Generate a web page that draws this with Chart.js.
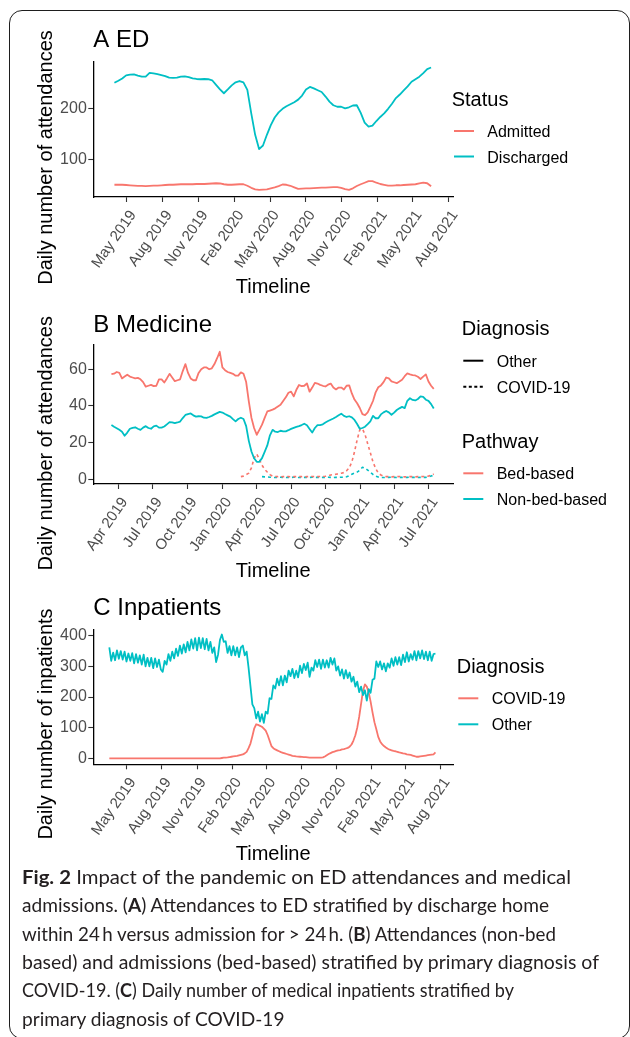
<!DOCTYPE html>
<html>
<head>
<meta charset="utf-8">
<script src="https://cdn.jsdelivr.net/npm/chart.js@4.4.1/dist/chart.umd.min.js"></script>
<style>
  html, body { margin: 0; padding: 0; background: #fff; }
  body { width: 630px; height: 1037px; position: relative; overflow: hidden; }
  .frame { position: absolute; left: 8.5px; top: 9.5px; width: 621px; height: 1029px;
           box-sizing: border-box; border: 1.6px solid #1e1e1e; border-radius: 13px; }
  canvas.panel { position: absolute; left: 0; }
  .caption { position: absolute; left: 21.5px; top: 863px; font-family: Lato, "Open Sans", sans-serif;
             font-size: 19.5px; line-height: 28.33px; color: #231f20; }
  .caption .ln { display: block; width: max-content; white-space: nowrap; transform-origin: 0 50%; }
  .caption b { font-weight: 700; }
</style>
</head>
<body>
<div class="frame"></div>
<canvas id="edChart" class="panel" width="630" height="300" style="top:0px"></canvas>
<canvas id="medChart" class="panel" width="630" height="290" style="top:300px"></canvas>
<canvas id="inpChart" class="panel" width="630" height="280" style="top:590px"></canvas>
<div class="caption">
  <span class="ln" data-w="549"><b>Fig. 2</b> Impact of the pandemic on ED attendances and medical</span>
  <span class="ln" data-w="527">admissions. (<b>A</b>) Attendances to ED stratified by discharge home</span>
  <span class="ln" data-w="534">within 24&#8201;h versus admission for &gt; 24&#8201;h. (<b>B</b>) Attendances (non-bed</span>
  <span class="ln" data-w="577">based) and admissions (bed-based) stratified by primary diagnosis of</span>
  <span class="ln" data-w="492">COVID-19. (<b>C</b>) Daily number of medical inpatients stratified by</span>
  <span class="ln">primary diagnosis of COVID-19</span>
</div>
<script>
// ---------- data ----------
// Panel A: ED attendances, 7-day rolling means sampled every 10 days
const edStart = '2019-03-30';
const edStepDays = 10;
const edDischarged = [250,254,258.5,264.5,266,266.5,264,262,262,269.5,
  268.5,267,265,263,260,259.5,260,262,262.5,261,
  258.5,257.5,257,257.5,257,255,246,237,229.5,237,
  245,251,253.5,251,236,190,148,120,127,148,
  167,182,192,199,204,208,212,217,225,237,
  242,239,235.5,232,223,213,206,203,203,200,
  202,205.5,206,191,172,164,166,175,183,190,
  199,209,220,227,235,243,252,257,262,269,
  277,280];
const edAdmitted = [50,50,50,49.5,49,48.5,48,48,47.5,48,
  48.5,48.5,49,49.5,50,50,50.5,51,51,51,
  51,51.5,51.5,51.5,52,52.5,53,52.5,51,50,
  50,50.5,51,51,48,44,41,40,40.5,41,
  43,45,47.5,50.5,50,48,45,42,42.5,43,
  43,43.5,44,44.5,44.5,45,45.5,45.5,44,41.5,
  40,43,47.5,51,54,57,57,54,51.5,50,
  48.5,48.5,49,49,49.5,50,50.5,51,52.5,54,
  53,47];
const edTickDates = ['2019-05-01','2019-08-01','2019-11-01','2020-02-01','2020-05-01',
  '2020-08-01','2020-11-01','2021-02-01','2021-05-01','2021-08-01'];
const edTickLabels = ['May 2019','Aug 2019','Nov 2019','Feb 2020','May 2020',
  'Aug 2020','Nov 2020','Feb 2021','May 2021','Aug 2021'];
const edYTicks = [100, 200];

// Panel B: medicine attendances, sampled weekly
const medStart = '2019-03-13';
const medStepDays = 7;
const medBedOther = [57.3,57.6,58.5,58,55,56,57,56,55.5,55,
  55.3,54.5,53,50.5,51,51.5,50.8,51,54.5,54.5,
  52.8,55,57.5,55.5,53.5,54,54.5,59,62.8,58,
  55,54,54,58,60,61,61,60,60.5,62.8,
  66,69.5,61,59.5,58.5,58,57.5,56.5,56.5,58.3,
  57.5,53,42.5,33.5,28,24.3,27,29.8,33.5,37,
  37.5,38,38.7,39.7,40.6,42.7,44.7,47.2,47.8,45.2,
  48.8,51.4,50.8,51,52.3,47.8,50,52.6,52.2,51.5,
  51,50.6,51.6,52.2,50,49,50,50,49,51,
  51.2,46.8,43.5,41.5,38.9,35.5,35,36.5,39.5,42.7,
  47.4,50.2,51.2,53,55.5,55,53.4,52.9,52.4,53.3,
  54.3,56.2,57.7,57.2,56.8,56.6,55.9,54.7,56,57.2,
  53.3,51,49.3];
const medNonBedOther = [29.6,28.7,27.9,27,26,23.8,25.5,27.6,28.1,28.4,
  27.6,27,28.2,29,28,27.6,28.9,29.3,28.2,28.2,
  28.8,30,31.2,31.1,30.6,31,31.5,33.4,35.1,35.6,
  35.9,34.9,34.2,34.4,34.3,33.6,33.5,34,34.6,35.4,
  36.1,36.8,36.4,35.6,34.9,34.2,32.8,31.6,32.9,33.6,
  32.9,29,21,15.2,11.5,9.6,9.6,11.6,15,18.5,
  24,27,26,25.8,26.5,26.2,26.2,26.8,27.5,28.1,
  28.6,29,29.6,30.3,29.5,27.5,25.5,28,29.6,29.6,
  30,31,31.8,32.5,33.2,34,34.9,35.8,34.6,34,
  34.4,33.8,32.4,30.2,27.6,28,28.7,30.1,31.6,34.6,
  33.3,33.3,35.4,36.5,37.3,36.5,35.2,36.4,37.8,38.7,
  39.5,38.8,42.8,44.2,43.3,43,43.8,45.2,45,43.4,
  42.8,41,38.6];
const medBedCovidStart = '2020-02-19';
const medBedCovid = [1.5,1.8,2.6,3.4,6.3,11.5,13.8,11,7.7,5.5,4,2.6,1.8,1.6,
  1.5,1.4,1.5,1.6,1.5,1.4,1.5,1.5,1.6,1.5,1.4,1.5,1.5,1.6,1.5,1.5,1.6,1.6,
  1.7,2,2.4,2.6,2.8,3.1,3.4,3.7,4.7,6.3,9.5,15,21.5,27,27.6,24.4,19.4,14.5,9.5,6,3.4,2.4,1.8,
  1.5,1.5,1.4,1.5,1.5,1.6,1.5,1.4,1.5,1.5,1.5,1.4,1.5,1.5,1.6,1.6,
  1.8,2.3,2.9];
const medNonBedCovidStart = '2020-04-15';
const medNonBedCovid = [1.5,1.4,1.3,1.2,
  1.1,1.0,1.1,1.2,1.1,1.0,1.1,1.1,1.2,1.1,1.0,1.1,1.1,1.0,1.1,1.2,1.1,1.1,1.0,1.1,1.1,1.2,1.1,1.0,1.1,1.1,1.2,1.1,
  1.4,2,2.8,3.5,4,5,6.6,6.2,5.1,3.9,2.7,1.8,1.3,
  1.1,1.0,1.1,1.1,1.2,1.1,1.0,1.1,1.1,1.0,1.1,1.2,1.1,1.1,1.0,1.1,1.1,1.1,
  1.3,1.8,2.3];
const medTickDates = ['2019-04-01','2019-07-01','2019-10-01','2020-01-01','2020-04-01',
  '2020-07-01','2020-10-01','2021-01-01','2021-04-01','2021-07-01'];
const medTickLabels = ['Apr 2019','Jul 2019','Oct 2019','Jan 2020','Apr 2020',
  'Jul 2020','Oct 2020','Jan 2021','Apr 2021','Jul 2021'];
const medYTicks = [0, 20, 40, 60];

// Panel C: daily medical inpatients, sampled every 5 days
const inpStart = '2019-03-16';
const inpStepDays = 5;
const inpOther = [362,318,345,320,352,325,350,322,348,316,
  342,318,343,310,340,312,336,306,338,300,
  328,300,328,294,326,298,322,290,282,318,
  306,340,318,348,326,358,334,368,342,372,
  346,380,352,388,358,392,352,394,360,392,
  356,390,352,380,344,362,314,338,386,404,
  380,382,344,366,336,366,336,362,330,362,
  368,336,348,296,236,176,164,130,152,120,
  144,116,152,146,196,194,238,228,260,238,
  268,238,270,248,286,268,292,262,286,264,
  302,278,308,288,312,266,296,286,320,298,
  322,292,322,296,320,296,328,306,326,286,
  300,270,290,260,288,262,280,250,266,234,
  250,216,234,206,222,188,226,214,256,260,
  316,298,316,290,310,284,310,296,326,302,
  330,306,330,304,338,314,346,316,340,322,
  350,320,350,326,352,324,348,320,348,318,
  340,342];
const inpCovid = [0,0,0,0,0,0,0,0,0,0,
  0,0,0,0,0,0,0,0,0,0,
  0,0,0,0,0,0,0,0,0,0,
  0,0,0,0,0,0,0,0,0,0,
  0,0,0,0,0,0,0,0,0,0,
  0,0,0,0,0,0,0,0,0,
  1,2,2.5,3,4,5,6,7,8,9.5,
  11,12.5,16,21,33,48,72,98,111,109,
  106,103,97,90,76,58,40,33,29,26,
  23,20,18,16,14,12,10,8,7,6,
  5.5,5,4.5,4,3.5,3,2.5,2.5,2,2,
  2,2,2.5,3,6,10,14,17,20,22,
  24,26,27,29,30,32,34,38,45,58,
  75,100,135,178,220,241,234,215,185,150,
  118,95,70,55,46,40,35,31,28,26,
  24,23,21,19,18,16,15,13,12,11,
  9,7,5,5,6,7,8,9,10,11,
  12,13,19];
const inpYTicks = [0, 100, 200, 300, 400];

// ---------- helpers ----------
const EPOCH = Date.UTC(2019, 0, 1);
function dayOf(iso) {
  const [y, m, d] = iso.split('-').map(Number);
  return (Date.UTC(y, m - 1, d) - EPOCH) / 86400000;
}
function sampled(startIso, stepDays, values) {
  const d0 = dayOf(startIso);
  return values.map((v, i) => ({ x: d0 + i * stepDays, y: v }));
}

const RED = '#F8766D';
const TEAL = '#00BFC4';
const FONT = '"Liberation Sans", Arial, Helvetica, sans-serif';
const TICK_GREY = '#4D4D4D';
const PLOT_LEFT = 93.3;
const PLOT_RIGHT = 453;
const X_AXIS_H = 60;
const LABEL_ANGLE = 55;
const LABEL_GAP = 11;
const LABEL_SIZE = 15;

const decorById = {};

const panelDecor = {
  id: 'panelDecor',
  afterDraw(chart) {
    const d = decorById[chart.canvas.id];
    if (!d) return;
    const ctx = chart.ctx;
    const area = chart.chartArea;
    const xs = chart.scales.x;
    const off = d.canvasTop;
    ctx.save();

    // rotated date labels under the x axis
    ctx.font = LABEL_SIZE + 'px ' + FONT;
    ctx.fillStyle = TICK_GREY;
    ctx.textAlign = 'right';
    ctx.textBaseline = 'top';
    d.xTickDates.forEach((iso, i) => {
      const px = xs.getPixelForValue(dayOf(iso));
      ctx.save();
      ctx.translate(px, area.bottom + LABEL_GAP);
      ctx.rotate(-LABEL_ANGLE * Math.PI / 180);
      ctx.fillText(d.xTickLabels[i], 0, 0);
      ctx.restore();
    });

    ctx.fillStyle = '#000';
    ctx.textBaseline = 'alphabetic';

    // panel title
    ctx.font = '24px ' + FONT;
    ctx.textAlign = 'left';
    ctx.fillText(d.title, PLOT_LEFT, d.titleY - off);

    // axis titles
    ctx.font = '20px ' + FONT;
    ctx.textAlign = 'center';
    ctx.fillText('Timeline', (area.left + area.right) / 2, d.xTitleY - off);
    ctx.save();
    ctx.translate(51.5, d.yTitleCenter - off);
    ctx.rotate(-Math.PI / 2);
    ctx.fillText(d.yTitle, 0, 0);
    ctx.restore();

    // legends
    ctx.textAlign = 'left';
    d.legends.forEach(g => {
      ctx.font = '20px ' + FONT;
      ctx.fillStyle = '#000';
      ctx.fillText(g.title, g.x, g.titleY - off);
      g.items.forEach(it => {
        ctx.strokeStyle = it.color;
        ctx.lineWidth = 2;
        ctx.setLineDash(it.dash || []);
        ctx.beginPath();
        ctx.moveTo(g.keyX0, it.y - off);
        ctx.lineTo(g.keyX1, it.y - off);
        ctx.stroke();
        ctx.setLineDash([]);
        ctx.font = '16px ' + FONT;
        ctx.fillStyle = '#000';
        ctx.fillText(it.label, g.labelX, it.y - off + 6);
      });
    });
    ctx.restore();
  }
};

function makePanel(id, p) {
  decorById[id] = p.decor;
  const canvas = document.getElementById(id);
  const h = canvas.height;
  return new Chart(canvas, {
    type: 'line',
    data: { datasets: p.datasets },
    options: {
      responsive: false,
      animation: false,
      devicePixelRatio: 1,
      events: [],
      layout: { padding: { left: 0, right: 630 - PLOT_RIGHT, top: p.plotTop,
                           bottom: h - p.plotBottom - X_AXIS_H } },
      plugins: { legend: { display: false }, tooltip: { enabled: false }, title: { display: false } },
      elements: {
        point: { radius: 0 },
        line: { tension: 0, borderWidth: 1.8, borderJoinStyle: 'round', fill: false }
      },
      scales: {
        x: {
          type: 'linear',
          min: dayOf(p.xMin), max: dayOf(p.xMax),
          afterFit: s => { s.height = X_AXIS_H; },
          afterBuildTicks: s => { s.ticks = p.decor.xTickDates.map(t => ({ value: dayOf(t) })); },
          grid: { display: true, drawOnChartArea: false, drawTicks: true, tickLength: 5,
                  tickWidth: 1.1, tickColor: '#333333', color: '#333333' },
          border: { display: true, color: '#000', width: 1.3 },
          ticks: { display: false }
        },
        y: {
          min: p.yMin, max: p.yMax,
          afterFit: s => { s.width = PLOT_LEFT; },
          afterBuildTicks: s => { s.ticks = p.yTicks.map(v => ({ value: v })); },
          grid: { display: true, drawOnChartArea: false, drawTicks: true, tickLength: 5,
                  tickWidth: 1.1, tickColor: '#333333', color: '#333333' },
          border: { display: true, color: '#000', width: 1.3 },
          ticks: { font: { family: FONT, size: 16 }, color: TICK_GREY, padding: 1.5 }
        }
      }
    },
    plugins: [panelDecor]
  });
}

// ---------- A ED ----------
makePanel('edChart', {
  plotTop: 61.7, plotBottom: 197,
  xMin: '2019-02-04', xMax: '2021-08-12',
  yMin: 26, yMax: 291.4, yTicks: edYTicks,
  datasets: [
    { label: 'Admitted', data: sampled(edStart, edStepDays, edAdmitted), borderColor: RED },
    { label: 'Discharged', data: sampled(edStart, edStepDays, edDischarged), borderColor: TEAL }
  ],
  decor: {
    canvasTop: 0, title: 'A ED', titleY: 47.3,
    yTitle: 'Daily number of attendances', yTitleCenter: 157.5, xTitleY: 292.7,
    xTickDates: edTickDates, xTickLabels: edTickLabels,
    legends: [
      { title: 'Status', x: 451.7, titleY: 106, keyX0: 454, keyX1: 474, labelX: 487.3,
        items: [ { label: 'Admitted', color: RED, y: 131 },
                 { label: 'Discharged', color: TEAL, y: 156.5 } ] }
    ]
  }
});

// ---------- B Medicine ----------
makePanel('medChart', {
  plotTop: 45, plotBottom: 184,
  xMin: '2019-01-24', xMax: '2021-09-03',
  yMin: -2.5, yMax: 73.2, yTicks: medYTicks,
  datasets: [
    { label: 'Bed-based / Other', data: sampled(medStart, medStepDays, medBedOther), borderColor: RED },
    { label: 'Non-bed-based / Other', data: sampled(medStart, medStepDays, medNonBedOther), borderColor: TEAL },
    { label: 'Bed-based / COVID-19', data: sampled(medBedCovidStart, medStepDays, medBedCovid),
      borderColor: RED, borderDash: [3, 3], borderWidth: 1.6 },
    { label: 'Non-bed-based / COVID-19', data: sampled(medNonBedCovidStart, medStepDays, medNonBedCovid),
      borderColor: TEAL, borderDash: [3, 3], borderWidth: 1.6 }
  ],
  decor: {
    canvasTop: 300, title: 'B Medicine', titleY: 331.7,
    yTitle: 'Daily number of attendances', yTitleCenter: 443.3, xTitleY: 576.7,
    xTickDates: medTickDates, xTickLabels: medTickLabels,
    legends: [
      { title: 'Diagnosis', x: 461.7, titleY: 335, keyX0: 463.3, keyX1: 483.3, labelX: 496.7,
        items: [ { label: 'Other', color: '#000', y: 360.7 },
                 { label: 'COVID-19', color: '#000', dash: [3, 2.5], y: 386.7 } ] },
      { title: 'Pathway', x: 461.7, titleY: 448.3, keyX0: 463.3, keyX1: 483.3, labelX: 496.7,
        items: [ { label: 'Bed-based', color: RED, y: 473.3 },
                 { label: 'Non-bed-based', color: TEAL, y: 499 } ] }
    ]
  }
});

// ---------- C Inpatients ----------
makePanel('inpChart', {
  plotTop: 39.3, plotBottom: 174.3,
  xMin: '2019-02-02', xMax: '2021-09-02',
  yMin: -19.6, yMax: 421, yTicks: inpYTicks,
  datasets: [
    { label: 'Other', data: sampled(inpStart, inpStepDays, inpOther), borderColor: TEAL, order: 0 },
    { label: 'COVID-19', data: sampled(inpStart, inpStepDays, inpCovid), borderColor: RED, order: 1 }
  ],
  decor: {
    canvasTop: 590, title: 'C Inpatients', titleY: 615,
    yTitle: 'Daily number of inpatients', yTitleCenter: 724, xTitleY: 860,
    xTickDates: edTickDates, xTickLabels: edTickLabels,
    legends: [
      { title: 'Diagnosis', x: 456.7, titleY: 673.3, keyX0: 458.3, keyX1: 478.3, labelX: 491.7,
        items: [ { label: 'COVID-19', color: RED, y: 698.3 },
                 { label: 'Other', color: TEAL, y: 724.3 } ] }
    ]
  }
});

// caption: full lines are fitted to their set widths, the short last line takes the mean scale
(function fitCaption() {
  const lines = Array.from(document.querySelectorAll('.caption .ln'));
  const scales = [];
  lines.forEach(el => {
    if (!el.dataset.w) return;
    const w = el.getBoundingClientRect().width;
    if (w > 0) {
      const k = Number(el.dataset.w) / w;
      scales.push(k);
      el.style.transform = 'scaleX(' + k.toFixed(4) + ')';
    }
  });
  const mean = scales.length ? scales.reduce((a, b) => a + b, 0) / scales.length : 1;
  lines.forEach(el => {
    if (!el.dataset.w) el.style.transform = 'scaleX(' + mean.toFixed(4) + ')';
  });
})();
</script>
</body>
</html>
